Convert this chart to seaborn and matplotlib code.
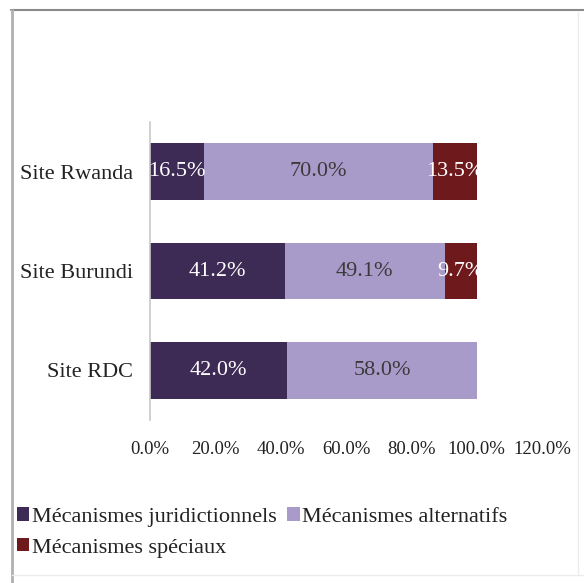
import matplotlib
matplotlib.use("Agg")
import matplotlib.pyplot as plt
from matplotlib.patches import Rectangle
from matplotlib.lines import Line2D
from matplotlib.transforms import Bbox, TransformedBbox
import numpy as np
import pandas as pd
import seaborn as sns

sites = ["Site Rwanda", "Site Burundi", "Site RDC"]
juridictionnels = [16.5, 41.2, 42.0]
alternatifs = [70.0, 49.1, 58.0]
speciaux = [13.5, 9.7, 0.0]
series_names = ["Mécanismes juridictionnels", "Mécanismes alternatifs", "Mécanismes spéciaux"]
tick_values = [0, 20, 40, 60, 80, 100, 120]

colors = ["#3d2a55", "#a99bc9", "#6e1a1c"]
label_colors = ["white", "#3a3a3a", "white"]

sns.set_theme(style="white")
plt.rcParams["font.family"] = ["Liberation Serif", "DejaVu Serif"]

fig = plt.figure(figsize=(5.84, 5.83), dpi=100)
ax = fig.add_axes([0.257, 0.2796, 0.671, 0.511])

segments = np.array([juridictionnels, alternatifs, speciaux])
ends = np.cumsum(segments, axis=0)
starts = ends - segments
bar_w = 0.57

# stacked bars: draw cumulative totals from back to front
for k in [2, 1, 0]:
    df = pd.DataFrame({"site": sites, "value": ends[k]})
    sns.barplot(data=df, x="value", y="site", orient="h", color=colors[k],
                saturation=1, width=bar_w, ax=ax, linewidth=0, order=sites)

ax.set_xlim(0, 120)
ax.set_ylim(2.5, -0.5)

# segment labels, clipped to the horizontal extent of the stacked bar
for k in range(3):
    for i, site in enumerate(sites):
        w = segments[k][i]
        if w <= 0:
            continue
        t = ax.text(starts[k][i] + w / 2, i, f"{w:.1f}%", ha="center", va="center",
                    color=label_colors[k], fontsize=16)
        box = TransformedBbox(Bbox.from_bounds(0, i - bar_w / 2, ends[2][i], bar_w),
                              ax.transData)
        t.set_clip_box(box)
        t.set_clip_on(True)

ax.set_xticks(tick_values)
ax.set_xticklabels([f"{v:.1f}%" for v in tick_values], fontsize=13.5, color="#222222")
ax.tick_params(axis="x", length=0, pad=15)
ax.tick_params(axis="y", length=0, pad=12, labelsize=16, labelcolor="#222222")
ax.set_xlabel("")
ax.set_ylabel("")
for s in ["top", "right", "bottom"]:
    ax.spines[s].set_visible(False)
ax.spines["left"].set_color("#c8c8c8")
ax.spines["left"].set_linewidth(1.2)

handles = [Rectangle((0, 0), 1, 1, facecolor=c, edgecolor="none") for c in colors]
order = [0, 2, 1]
fig.legend([handles[j] for j in order], [series_names[j] for j in order],
           ncol=2, loc="upper left", bbox_to_anchor=(0.014, 0.145),
           frameon=False, fontsize=16, handlelength=0.55, handleheight=0.55,
           handletextpad=0.1, columnspacing=0.5, labelspacing=0.5, borderaxespad=0,
           labelcolor="#222222")

# outer chart frame
fig.add_artist(Line2D([0.019, 1.0], [1 - 10 / 583, 1 - 10 / 583], transform=fig.transFigure,
                      color="#8a8a8a", linewidth=1.5))
fig.add_artist(Line2D([12 / 584, 12 / 584], [0, 1 - 10 / 583], transform=fig.transFigure,
                      color="#b0b0b0", linewidth=2.0))
fig.add_artist(Line2D([12 / 584, 1.0], [8 / 583, 8 / 583], transform=fig.transFigure,
                      color="#ececec", linewidth=1.0))
fig.add_artist(Line2D([578 / 584, 578 / 584], [8 / 583, 1 - 12 / 583], transform=fig.transFigure,
                      color="#ececec", linewidth=1.0))

fig.savefig("out.png", dpi=100)
